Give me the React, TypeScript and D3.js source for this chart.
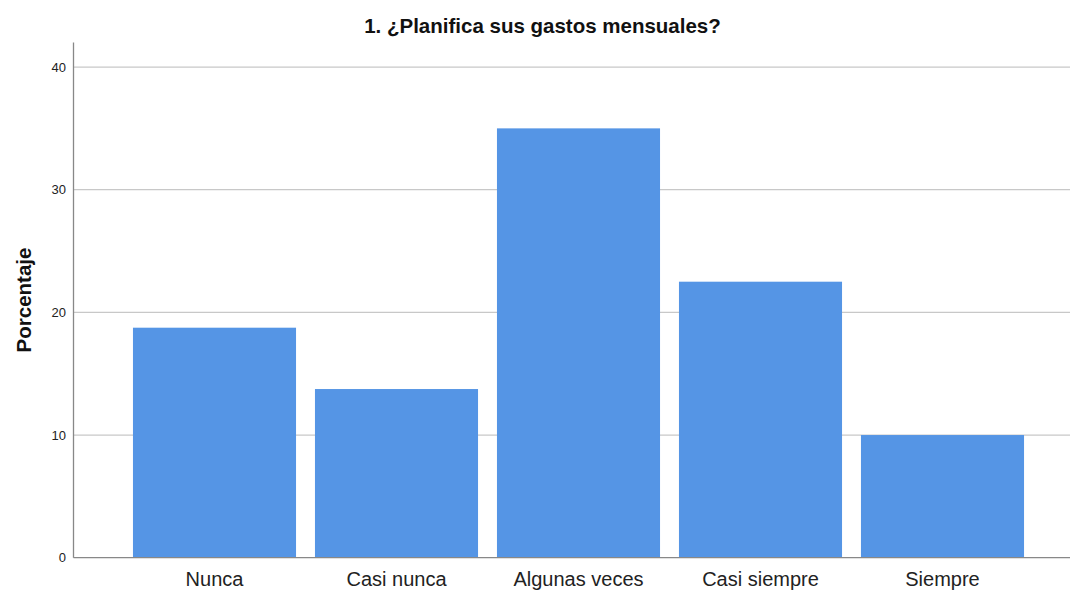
import React from "react";
import * as d3 from "d3";

const categories = ["Nunca", "Casi nunca", "Algunas veces", "Casi siempre", "Siempre"];
const values = [18.75, 13.75, 35, 22.5, 10];
const yTicks = [0, 10, 20, 30, 40];
const title = "1. ¿Planifica sus gastos mensuales?";
const yLabel = "Porcentaje";

export default function App() {
  const W = 1070, H = 590;
  const axisX = 73.5;
  const x = d3.scaleBand<string>().domain(categories).range([123.5, 1033.5]).paddingInner(0.104).paddingOuter(0.052);
  const y = d3.scaleLinear().domain([0, 42]).range([557.7, 42.5]);
  const font = "'Liberation Sans', Arial, sans-serif";
  return (
    <svg width={W} height={H} style={{ position: "absolute", left: 0, top: 0, background: "#fff" }} fontFamily={font}>
      <rect x={0} y={0} width={W} height={H} fill="#fff" />
      {yTicks.filter(t => t > 0).map(t => (
        <line key={t} x1={axisX} x2={1070} y1={y(t)} y2={y(t)} stroke="#c8c8c8" strokeWidth={1.3} />
      ))}
      {categories.map((c, i) => (
        <rect key={c} x={x(c)} y={y(values[i])} width={x.bandwidth()} height={y(0) - y(values[i])} fill="#5595e5" />
      ))}
      <line x1={axisX} x2={1070} y1={y(0)} y2={y(0)} stroke="#888" strokeWidth={1.3} />
      <line x1={axisX} x2={axisX} y1={y(42)} y2={y(0)} stroke="#888" strokeWidth={1.3} />
      {yTicks.map(t => (
        <text key={t} x={66} y={y(t)} dy="0.35em" textAnchor="end" fontSize={13} fill="#222">{t}</text>
      ))}
      {categories.map(c => (
        <text key={c} x={(x(c) as number) + x.bandwidth() / 2} y={586} textAnchor="middle" fontSize={20} fill="#222">{c}</text>
      ))}
      <text x={542.5} y={33} textAnchor="middle" fontSize={20.5} fontWeight="bold" fill="#111">{title}</text>
      <text transform="translate(31,300) rotate(-90)" textAnchor="middle" fontSize={20.5} fontWeight="bold" fill="#111">{yLabel}</text>
    </svg>
  );
}
